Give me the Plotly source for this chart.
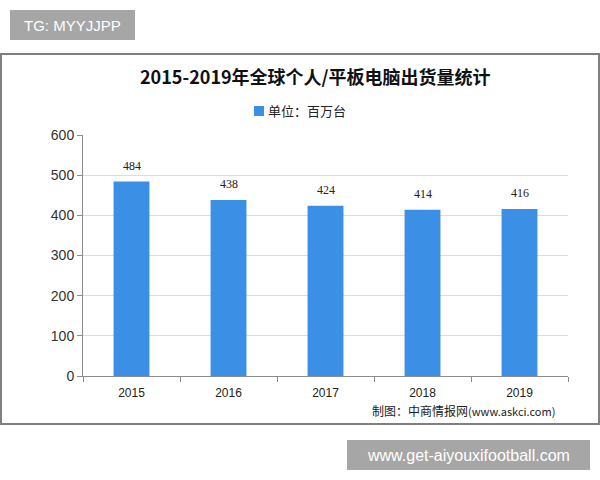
import plotly.graph_objects as go

years = ["2015", "2016", "2017", "2018", "2019"]
shipments = [484, 438, 424, 414, 416]
y_ticks = [0, 100, 200, 300, 400, 500, 600]

W, H = 600, 480
def px(x): return x / W
def py(y): return 1 - y / H

fig = go.Figure()
fig.add_trace(go.Bar(
    x=years, y=shipments, name="单位：百万台",
    marker=dict(color="#3b8fe5", line=dict(width=0)),
    showlegend=False,
))

# value labels above bars (category index positions)
for i, v in enumerate(shipments):
    fig.add_annotation(x=i, y=v, xref="x", yref="y", text=str(v), showarrow=False,
                       yanchor="bottom", yshift=7,
                       font=dict(family="Liberation Serif, serif", size=12, color="#222"))

fig.update_layout(
    width=W, height=H, margin=dict(l=0, r=0, t=0, b=0, pad=0, autoexpand=False),
    paper_bgcolor="white", plot_bgcolor="white",
    bargap=0.63, showlegend=False,
    xaxis=dict(domain=[px(83), px(568)], type="category", automargin=False,
               categoryorder="array", categoryarray=years,
               range=[-0.5, len(years) - 0.5],
               showline=True, linecolor="#8c8c8c", linewidth=1,
               ticks="outside", tickson="boundaries", ticklen=5, tickcolor="#8c8c8c",
               ticklabelstandoff=6,
               tickfont=dict(family="Arial, Liberation Sans", size=12, color="#222"),
               showgrid=False),
    yaxis=dict(domain=[py(376), py(135)], range=[0, 600], tickvals=y_ticks,
               automargin=False,
               showline=True, linecolor="#8c8c8c", linewidth=1,
               ticks="outside", ticklen=5, tickcolor="#8c8c8c",
               tickfont=dict(family="Arial, Liberation Sans", size=14, color="#333"),
               gridcolor="#dcdcdc", gridwidth=1, zeroline=False),
)

def note(x, y, text, size, family, color="#222", xanchor="center"):
    fig.add_annotation(xref="paper", yref="paper", x=px(x), y=py(y),
                       xanchor=xanchor, yanchor="middle", text=text, showarrow=False,
                       font=dict(family=family, size=size, color=color))

# outer frame
fig.add_shape(type="rect", xref="paper", yref="paper",
              x0=px(1), x1=px(599), y0=py(424), y1=py(54),
              line=dict(color="#7f7f7f", width=2), layer="below")

# title
note(316, 76, "<b>2015-2019年全球个人/平板电脑出货量统计</b>", 18, "Noto Sans CJK SC", "#111")
# legend
fig.add_shape(type="rect", xref="paper", yref="paper",
              x0=px(254), x1=px(264), y0=py(116), y1=py(106),
              fillcolor="#3b8fe5", line=dict(width=0))
note(266, 111, "单位：百万台", 13, "Noto Sans CJK SC", xanchor="left")
# source
note(557, 410, "制图：中商情报网<span style='font-size:11px'>(www.askci.com)</span>",
     12, "Noto Sans CJK SC", xanchor="right")

# overlay boxes
fig.add_shape(type="rect", xref="paper", yref="paper",
              x0=px(10), x1=px(135), y0=py(40), y1=py(10),
              fillcolor="#a6a6a6", line=dict(width=0), layer="below")
note(72, 25, "TG: MYYJJPP", 15, "Liberation Sans, Arial", "white")
fig.add_shape(type="rect", xref="paper", yref="paper",
              x0=px(347), x1=px(590), y0=py(470), y1=py(440),
              fillcolor="#a6a6a6", line=dict(width=0), layer="below")
note(468, 455, "www.get-aiyouxifootball.com", 16, "Liberation Sans, Arial", "white")

fig.write_html("out.html")
